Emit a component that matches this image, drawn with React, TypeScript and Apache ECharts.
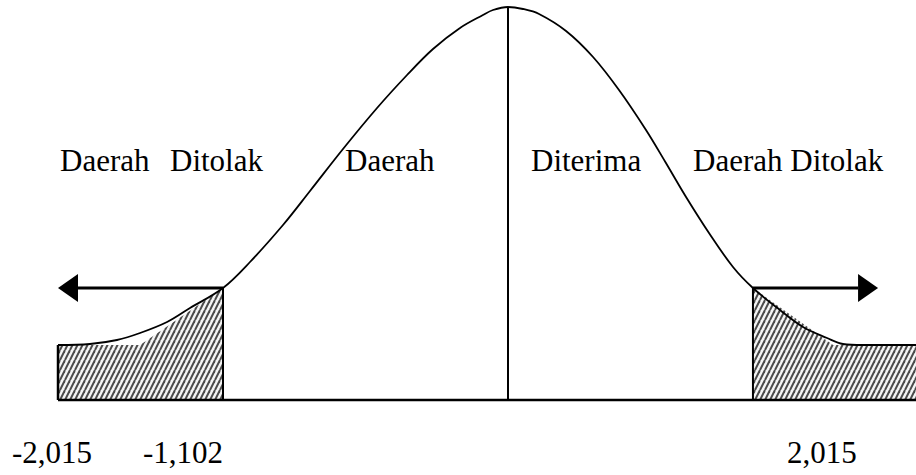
import React, { useEffect, useRef } from "react";
import * as echarts from "echarts";

// Axis extents (standardised t scale on x, density height on y)
const X_MIN = -3.3867;
const X_MAX = 2.72;
const Y_MIN = -0.075;
const Y_MAX = 0.4;

// Bell curve
const curveX = [-3.0, -2.787, -2.607, -2.453, -2.273, -2.12, -1.9, -1.72, -1.5, -1.32, -1.1, -0.873, -0.673, -0.5, -0.32, -0.167, -0.1, 0,
  0.1, 0.207, 0.387, 0.567, 0.74, 0.92, 1.053, 1.187, 1.34, 1.5, 1.633, 1.813, 1.967, 2.127, 2.233, 2.367, 2.72];
const curveY = [0.055, 0.056, 0.06, 0.067, 0.078, 0.092, 0.112, 0.138, 0.175, 0.209, 0.251, 0.292, 0.325, 0.351, 0.372, 0.385, 0.39, 0.393,
  0.391, 0.386, 0.369, 0.343, 0.31, 0.27, 0.237, 0.203, 0.167, 0.133, 0.112, 0.09, 0.073, 0.062, 0.056, 0.055, 0.055];

const peakY = 0.393;
const tailLevel = 0.055;
const criticalLevel = 0.112;
// rejection regions: [outer/inner edge, diagonal end, edge]
const leftRegionX = [-3.0, -2.453, -1.9];
const rightRegionX = [1.633, 2.167, 2.72];
// arrows: [start, tip]
const leftArrowX = [-1.9, -3.0];
const rightArrowX = [1.633, 2.467];

const regionTexts = ["Daerah", "Ditolak", "Daerah", "Diterima", "Daerah Ditolak"];
const tickLabels = ["-2,015", "-1,102", "2,015"];

const FONT_FAMILY = '"Liberation Serif", "Times New Roman", serif';

function makePattern(): HTMLCanvasElement {
  const c = document.createElement("canvas");
  c.width = 5;
  c.height = 10;
  const ctx = c.getContext("2d")!;
  ctx.fillStyle = "#f4f4f4";
  ctx.fillRect(0, 0, 5, 10);
  ctx.strokeStyle = "#4a4a4a";
  ctx.lineWidth = 2;
  for (const dx of [-5, 0, 5]) {
    ctx.beginPath();
    ctx.moveTo(dx, 10);
    ctx.lineTo(dx + 5, 0);
    ctx.stroke();
  }
  return c;
}

export default function App() {
  const ref = useRef<HTMLDivElement>(null);

  useEffect(() => {
    if (!ref.current) return;
    const chart = echarts.init(ref.current, null, { renderer: "svg" });
    const pattern = makePattern();
    const patternFill: any = { image: pattern, repeat: "repeat", imageWidth: 5, imageHeight: 10 };

    const regions = [
      [
        [leftRegionX[0], 0],
        [leftRegionX[0], tailLevel],
        [leftRegionX[1], tailLevel],
        [leftRegionX[2], criticalLevel],
        [leftRegionX[2], 0],
      ],
      [
        [rightRegionX[0], 0],
        [rightRegionX[0], criticalLevel],
        [rightRegionX[1], tailLevel],
        [rightRegionX[2], tailLevel],
        [rightRegionX[2], 0],
      ],
    ];

    const seg = (pts: number[][], width: number, z = 3): any => ({
      type: "line",
      data: pts,
      symbol: "none",
      silent: true,
      z,
      lineStyle: { color: "#000", width },
    });

    const textStyle = (text: string, x: number, y: number) => ({
      type: "text",
      x,
      y,
      silent: true,
      style: {
        text,
        font: `31px ${FONT_FAMILY}`,
        fill: "#000",
        align: "left",
        verticalAlign: "middle",
        textAlign: "left",
        textVerticalAlign: "middle",
      },
    });

    chart.setOption({
      animation: false,
      backgroundColor: "#ffffff",
      grid: { left: 0, right: 0, top: 0, bottom: 0, containLabel: false },
      xAxis: { type: "value", min: X_MIN, max: X_MAX, show: false },
      yAxis: { type: "value", min: Y_MIN, max: Y_MAX, show: false },
      series: [
        {
          type: "custom",
          data: [0, 1],
          z: 1,
          silent: true,
          renderItem: (params: any, api: any) => {
            const poly = regions[params.dataIndex].map((p) => api.coord(p));
            return {
              type: "polygon",
              shape: { points: poly },
              style: { fill: patternFill, stroke: "none" },
            };
          },
        },
        {
          type: "line",
          data: curveX.map((x, i) => [x, curveY[i]]),
          symbol: "none",
          smooth: 0.35,
          silent: true,
          z: 4,
          lineStyle: { color: "#000", width: 1.8 },
        },
        seg([[leftRegionX[0], 0], [X_MAX, 0]], 2.5),
        seg([[0, 0], [0, peakY]], 2),
        seg([[leftRegionX[0], 0], [leftRegionX[0], tailLevel]], 2.5),
        seg([[leftRegionX[2], 0], [leftRegionX[2], criticalLevel]], 2),
        seg([[rightRegionX[0], 0], [rightRegionX[0], criticalLevel]], 2),
        {
          type: "custom",
          z: 5,
          silent: true,
          data: [
            [leftArrowX[0], leftArrowX[1], criticalLevel],
            [rightArrowX[0], rightArrowX[1], criticalLevel],
          ],
          renderItem: (params: any, api: any) => {
            const start = api.coord([api.value(0), api.value(2)]);
            const tip = api.coord([api.value(1), api.value(2)]);
            const dir = tip[0] > start[0] ? 1 : -1;
            const headLen = 20;
            const halfW = 14;
            const baseX = tip[0] - dir * headLen;
            return {
              type: "group",
              children: [
                {
                  type: "line",
                  shape: { x1: start[0], y1: start[1], x2: baseX, y2: tip[1] },
                  style: { stroke: "#000", lineWidth: 3 },
                },
                {
                  type: "polygon",
                  shape: { points: [tip, [baseX, tip[1] - halfW], [baseX, tip[1] + halfW]] },
                  style: { fill: "#000" },
                },
              ],
            };
          },
        },
      ],
      graphic: [
        textStyle(regionTexts[0], 60, 160),
        textStyle(regionTexts[1], 170, 160),
        textStyle(regionTexts[2], 345, 160),
        textStyle(regionTexts[3], 531, 160),
        textStyle(regionTexts[4], 693, 160),
        textStyle(tickLabels[0], 12, 452),
        textStyle(tickLabels[1], 143, 452),
        textStyle(tickLabels[2], 787, 452),
      ],
    });
    return () => chart.dispose();
  }, []);

  return (
    <div
      ref={ref}
      style={{ position: "fixed", left: 0, top: 0, width: 916, height: 475, background: "#fff" }}
    />
  );
}
